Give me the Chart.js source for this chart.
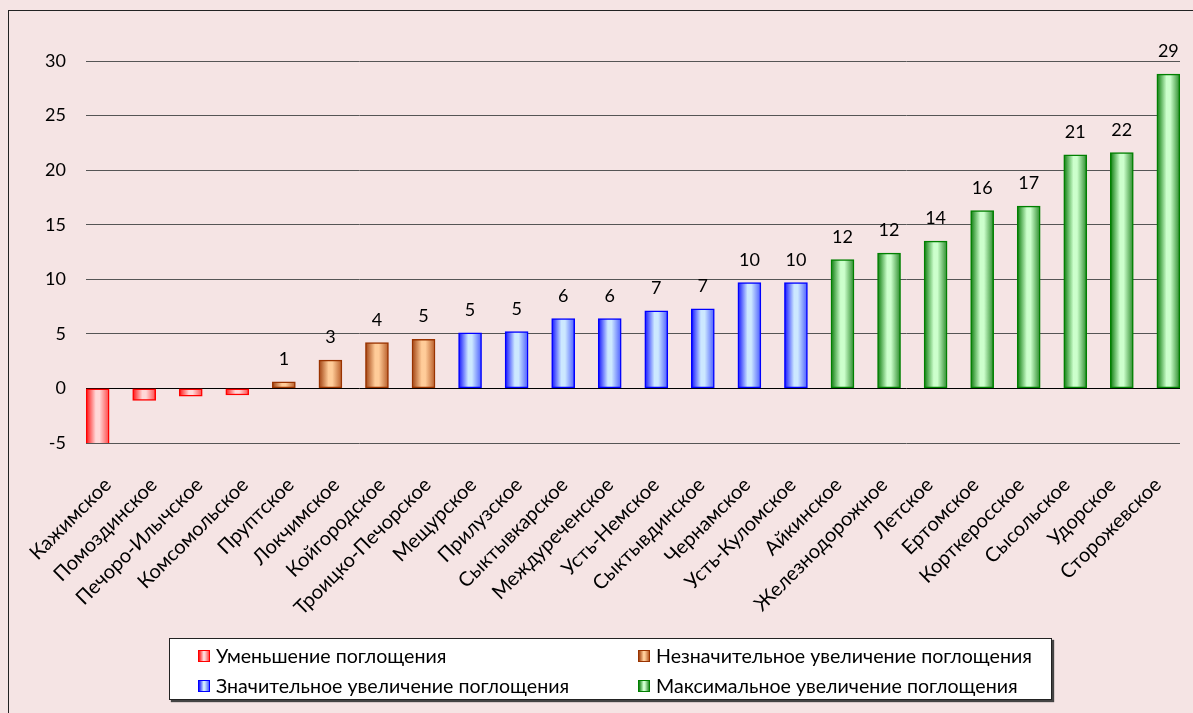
<!DOCTYPE html>
<html lang="ru">
<head>
<meta charset="utf-8">
<script src="https://cdn.jsdelivr.net/npm/chart.js@4.4.1/dist/chart.umd.min.js"></script>
<style>
  html, body { margin: 0; padding: 0; background: #f5e4e4; }
  body { width: 1193px; height: 713px; position: relative; overflow: hidden; font-family: Lato, "Open Sans", sans-serif; }
  #frame { position: absolute; left: 8px; top: 10px; right: -10px; bottom: -10px; border-left: 1px solid #222; border-top: 1px solid #222; }
  #wrap { position: absolute; left: 0; top: 0; width: 1193px; height: 713px; }
  #legend { position: absolute; left: 169px; top: 638px; width: 883px; height: 62px; background: #fff; border: 1px solid #222; box-shadow: 2px 2px 1px #444; box-sizing: border-box; }
  .item { position: absolute; display: flex; align-items: center; font-size: 19.6px; line-height: 22px; color: #000; white-space: nowrap; }
  .sw { width: 12px; height: 12px; box-sizing: border-box; border: 1px solid; margin-right: 6px; }
</style>
</head>
<body>
<div id="frame"></div>
<div id="wrap"><canvas id="chart" width="1193" height="713"></canvas></div>
<div id="legend"></div>
<script>
// --- DATA ---
const categories = [
  "Кажимское", "Помоздинское", "Печоро-Илычское", "Комсомольское",
  "Пруптское", "Локчимское", "Койгородское", "Троицко-Печорское",
  "Мещурское", "Прилузское", "Сыктывкарское", "Междуреченское",
  "Усть-Немское", "Сыктывдинское", "Чернамское", "Усть-Куломское",
  "Айкинское", "Железнодорожное", "Летское", "Ертомское",
  "Корткеросское", "Сысольское", "Удорское", "Сторожевское"
];
const values = [
  -5.2, -1.1, -0.7, -0.6,
  0.6, 2.6, 4.2, 4.5,
  5.1, 5.2, 6.4, 6.4,
  7.1, 7.3, 9.7, 9.7,
  11.8, 12.4, 13.5, 16.3,
  16.7, 21.4, 21.6, 28.8
];
// group index of every category (which legend entry it belongs to)
const groups = [0, 0, 0, 0, 1, 1, 1, 1, 2, 2, 2, 2, 2, 2, 2, 2, 3, 3, 3, 3, 3, 3, 3, 3];
const groupNames = [
  "Уменьшение поглощения",
  "Незначительное увеличение поглощения",
  "Значительное увеличение поглощения",
  "Максимальное увеличение поглощения"
];
const yTicks = [-5, 0, 5, 10, 15, 20, 25, 30];

// --- STYLE ---
const borderColors = ["#ff0000", "#993300", "#0000ff", "#008000"];
const gradStops = [
  ["#ff1010", "#ffd8d8", "#ff4848"],
  ["#a0400f", "#ffcc99", "#b85c28"],
  ["#1010ff", "#cce8ff", "#4a5cff"],
  ["#0a7a0a", "#ccffcc", "#2a8a2a"]
];
const BAR_W = 23;

function cylinder(ctx, g, cx) {
  const grad = ctx.createLinearGradient(cx - BAR_W / 2, 0, cx + BAR_W / 2, 0);
  const s = gradStops[g];
  grad.addColorStop(0, s[0]);
  grad.addColorStop(0.42, s[1]);
  grad.addColorStop(0.58, s[1]);
  grad.addColorStop(1, s[2]);
  return grad;
}

// build legend
const legendEl = document.getElementById('legend');
const legendPos = [[28, 6], [468, 6], [28, 36], [468, 36]];
groupNames.forEach((name, g) => {
  const it = document.createElement('div');
  it.className = 'item';
  it.style.left = legendPos[g][0] + 'px';
  it.style.top = legendPos[g][1] + 'px';
  const s = gradStops[g];
  it.innerHTML = `<span class="sw" style="border-color:${borderColors[g]};background:linear-gradient(to right, ${s[0]}, ${s[1]} 45%, ${s[1]} 58%, ${s[2]})"></span>${name}`;
  legendEl.appendChild(it);
});

// value labels above positive bars
const valueLabels = {
  id: 'valueLabels',
  afterDatasetsDraw(chart) {
    const ctx = chart.ctx;
    ctx.save();
    ctx.font = '18px Lato';
    ctx.fillStyle = '#000';
    ctx.textAlign = 'center';
    ctx.textBaseline = 'alphabetic';
    chart.data.datasets.forEach((ds, di) => {
      chart.getDatasetMeta(di).data.forEach((bar, j) => {
        const v = ds.data[j].y;
        if (v <= 0) return;
        ctx.fillText(String(Math.round(v)), bar.x, bar.y - 17);
      });
    });
    ctx.restore();
  }
};

const datasets = groupNames.map((name, g) => ({
  label: name,
  data: categories.map((c, i) => ({ x: i, y: values[i] })).filter((p, i) => groups[i] === g),
  grouped: false,
  barThickness: BAR_W,
  borderWidth: 1.5,
  borderSkipped: false,
  borderColor: borderColors[g],
  backgroundColor: (c) => {
    const xs = c.chart.scales && c.chart.scales.x;
    if (!xs || !c.raw) return gradStops[g][1];
    const cx = xs.getPixelForValue(c.raw.x);
    if (!Number.isFinite(cx)) return gradStops[g][1];
    return cylinder(c.chart.ctx, g, cx);
  }
}));

const catTicks = (s) => { s.ticks = categories.map((c, i) => ({ value: i })); };

new Chart(document.getElementById('chart'), {
  type: 'bar',
  data: { datasets },
  plugins: [valueLabels],
  options: {
    responsive: false,
    animation: false,
    layout: { padding: { top: 61, right: 13, bottom: 70, left: 0 } },
    plugins: { legend: { display: false }, tooltip: { enabled: false } },
    scales: {
      // bar positions
      x: {
        type: 'linear',
        display: false,
        offset: false,
        min: -0.25,
        max: 23.25,
        afterBuildTicks: catTicks
      },
      // category names, spaced a little tighter than the bars
      xLabels: {
        type: 'linear',
        position: 'bottom',
        offset: false,
        min: -0.482,
        max: 23.483,
        afterBuildTicks: catTicks,
        afterFit: (s) => { s.height = 200; s.paddingLeft = 0; s.paddingRight = 0; },
        grid: { display: false, drawTicks: false },
        border: { display: false },
        ticks: {
          autoSkip: false,
          maxRotation: 45,
          minRotation: 45,
          padding: 30,
          color: '#000',
          font: { family: 'Lato', size: 20 },
          callback: (v) => categories[v]
        }
      },
      y: {
        min: -5,
        max: 30,
        afterBuildTicks: (s) => { s.ticks = yTicks.map(v => ({ value: v })); },
        afterFit: (s) => { s.width = 86; },
        grid: {
          drawTicks: false,
          color: (c) => c.tick && c.tick.value === 0 ? '#000' : '#555'
        },
        border: { display: false },
        ticks: { padding: 20, color: '#000', font: { family: 'Lato', size: 18 } }
      }
    }
  }
});
</script>
</body>
</html>
